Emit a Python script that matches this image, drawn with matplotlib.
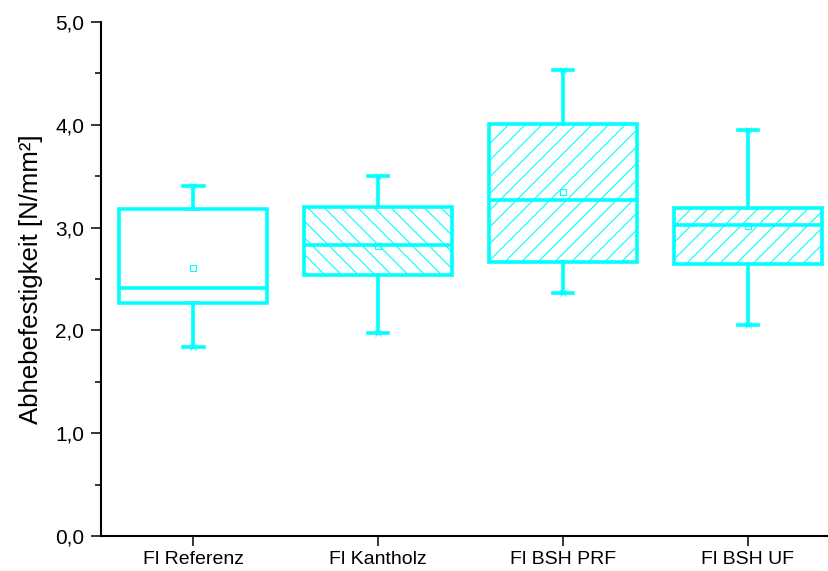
import numpy as np
import matplotlib
matplotlib.use("Agg")
import matplotlib.pyplot as plt
from matplotlib.ticker import MultipleLocator, FuncFormatter

plt.rcParams['font.family'] = ['Liberation Sans', 'DejaVu Sans']
plt.rcParams['hatch.linewidth'] = 0.8
plt.rcParams['hatch.color'] = '#00FFFF'

# Abhebefestigkeit je Variante [N/mm²]
labels = ['Fl Referenz', 'Fl Kantholz', 'Fl BSH PRF', 'Fl BSH UF']
whislo = [1.84, 1.97, 2.36, 2.05]
q1 = [2.27, 2.54, 2.67, 2.65]
med = [2.41, 2.83, 3.27, 3.03]
q3 = [3.18, 3.20, 4.01, 3.19]
whishi = [3.40, 3.50, 4.53, 3.95]
mean = [2.61, 2.82, 3.35, 3.02]
hatches = ['', '\\\\', '//', '//']

col = '#00FFFF'

stats = []
for i in range(len(labels)):
    stats.append(dict(label=labels[i], whislo=whislo[i], q1=q1[i], med=med[i],
                      q3=q3[i], whishi=whishi[i], mean=mean[i], fliers=[]))

fig = plt.figure(figsize=(8.29, 5.71), dpi=100)
ax = fig.add_axes([0.1218, 0.0613, 0.8782, 0.9002])

bp = ax.bxp(stats, positions=range(1, 5), widths=0.8, showmeans=True,
            patch_artist=True, capwidths=0.11,
            boxprops=dict(facecolor='white', edgecolor=col, linewidth=2.6),
            medianprops=dict(color=col, linewidth=2.6),
            whiskerprops=dict(color=col, linewidth=2.6),
            capprops=dict(color=col, linewidth=2.6),
            meanprops=dict(marker='s', markersize=4, markerfacecolor='none',
                           markeredgecolor=col, markeredgewidth=0.8))
for patch, h in zip(bp['boxes'], hatches):
    patch.set_hatch(h)

# kleine Kreuze an Min/Max
pos = np.arange(1, 5)
ax.plot(pos, whishi, 'x', color=col, markersize=5, markeredgewidth=0.7)
ax.plot(pos, whislo, 'x', color=col, markersize=5, markeredgewidth=0.7)

ax.set_xlim(0.5, 4.44)
ax.set_ylim(0, 5)
ax.yaxis.set_major_locator(MultipleLocator(1))
ax.yaxis.set_minor_locator(MultipleLocator(0.5))
ax.yaxis.set_major_formatter(FuncFormatter(lambda v, p: f'{v:.1f}'.replace('.', ',')))
ax.set_xticks(pos)
ax.set_xticklabels(labels)

for s in ['top', 'right']:
    ax.spines[s].set_visible(False)
for s in ['left', 'bottom']:
    ax.spines[s].set_linewidth(1.5)
ax.tick_params(axis='both', which='major', direction='out', length=7, width=1.1)
ax.tick_params(axis='y', which='minor', direction='out', length=4.5, width=1.1)
ax.tick_params(axis='y', labelsize=15, pad=5)
ax.tick_params(axis='x', labelsize=14, pad=4)

ax.set_ylabel('Abhebefestigkeit [N/mm²]', fontsize=18.5, labelpad=9)

fig.savefig('out.png', dpi=100)
